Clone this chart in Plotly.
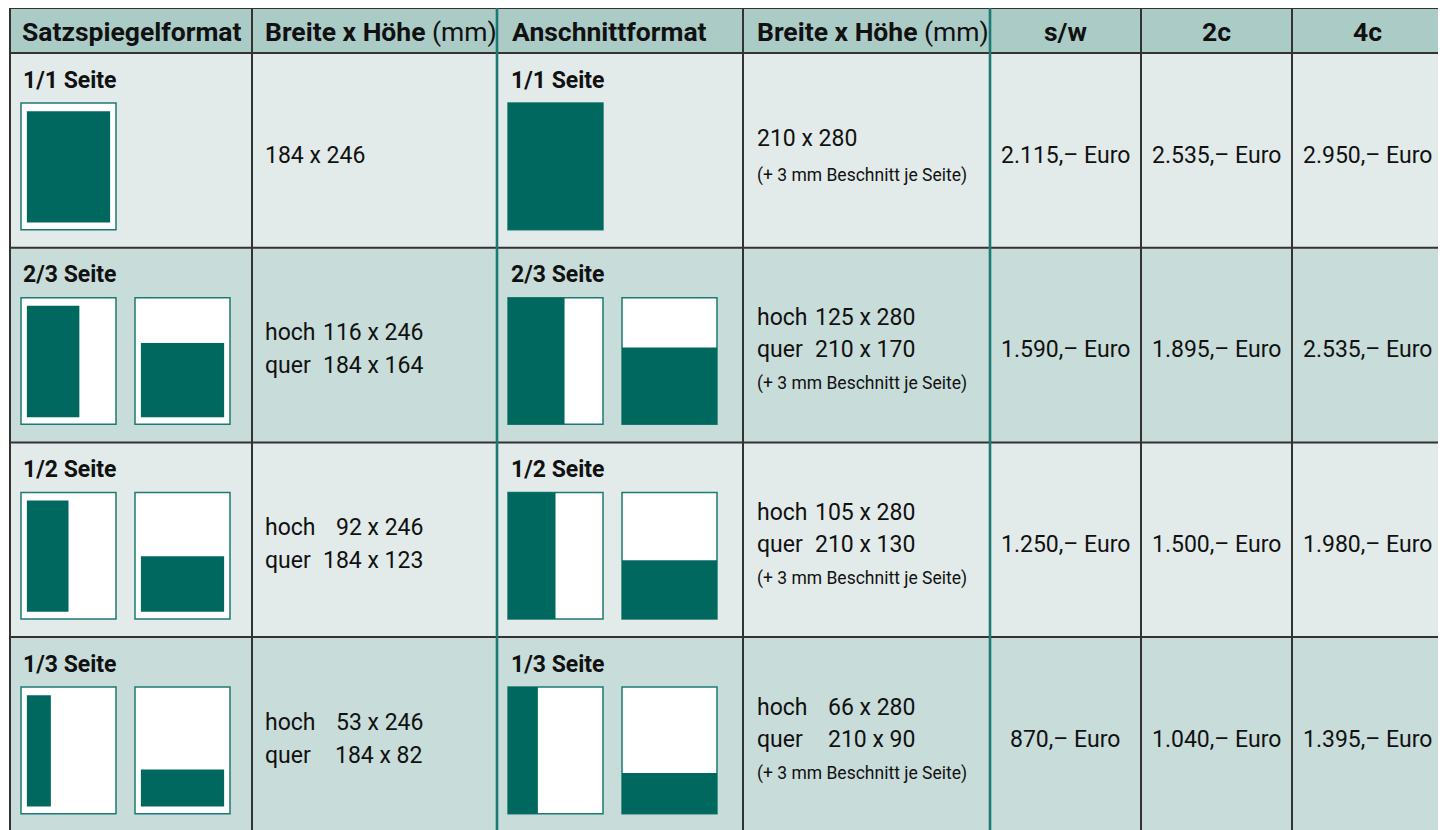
import plotly.graph_objects as go

# ---------------- data ----------------
header_labels = ["Satzspiegelformat", "Breite x Höhe", "Anschnittformat", "Breite x Höhe", "s/w", "2c", "4c"]
header_units = ["", " (mm)", "", " (mm)", "", "", ""]
formats = ["1/1 Seite", "2/3 Seite", "1/2 Seite", "1/3 Seite"]
# Satzspiegel (type area) sizes in mm: (width, height)
satz_hoch = [(184, 246), (116, 246), (92, 246), (53, 246)]
satz_quer = [None, (184, 164), (184, 123), (184, 82)]
# Anschnitt (bleed) sizes in mm
ansch_hoch = [(210, 280), (125, 280), (105, 280), (66, 280)]
ansch_quer = [None, (210, 170), (210, 130), (210, 90)]
beschnitt_note = "(+ 3 mm Beschnitt je Seite)"
price_sw = ["2.115,– Euro", "1.590,– Euro", "1.250,– Euro", "870,– Euro"]
price_2c = ["2.535,– Euro", "1.895,– Euro", "1.500,– Euro", "1.040,– Euro"]
price_4c = ["2.950,– Euro", "2.535,– Euro", "1.980,– Euro", "1.395,– Euro"]
page_mm = (210, 280)
satz_margin_mm = (13, 18)  # left, top

# ---------------- style ----------------
W, H = 1446, 830
OFF = 8  # page body margin
FONT = "Roboto, Liberation Sans, sans-serif"
C_HEAD = "#abcbc7"
C_LIGHT = "#e2ebea"
C_DARK = "#c8dcda"
C_TEAL = "#00685f"
C_TEAL_LINE = "#1b7b72"
C_LINE = "#333333"
C_TEXT = "#111111"

col_x = [10, 252, 497, 743, 990, 1141, 1292, 1443]
top, head_bottom = 8, 53
row_h = 194.7
row_tops = [head_bottom + i * row_h for i in range(len(formats))]
scale = 0.4524  # px per mm for icons

S_HEAD, S_LABEL, S_BODY, S_NOTE = 26.5, 23, 23, 17.5

shapes = []
annos = []

def rect(x0, y0, x1, y1, fill, line_color=None, lw=0, layer="below"):
    shapes.append(dict(type="rect", xref="x", yref="y", x0=x0, y0=y0, x1=x1, y1=y1,
                       fillcolor=fill, line=dict(color=line_color or fill, width=lw), layer=layer))

def line(x0, y0, x1, y1, color, width):
    shapes.append(dict(type="line", xref="x", yref="y", x0=x0, y0=y0, x1=x1, y1=y1,
                       line=dict(color=color, width=width), layer="above"))

def text(x, y, s, size, anchor="left", bold=False):
    if bold:
        s = "<b>" + s + "</b>"
    annos.append(dict(x=x, y=y, xref="x", yref="y", text=s, showarrow=False,
                      xanchor=anchor, yanchor="middle",
                      font=dict(family=FONT, size=size, color=C_TEXT)))

# backgrounds
rect(col_x[0], top, col_x[-1], head_bottom, C_HEAD)
for i, t in enumerate(row_tops):
    rect(col_x[0], t, col_x[-1], min(t + row_h, H + 20), C_LIGHT if i % 2 == 0 else C_DARK)

# header texts
head_pos = [(20, "left"), (263, "left"), (510, "left"), (755, "left"),
            (1065, "center"), (1216, "center"), (1367, "center")]
for (x, anc), lab, unit in zip(head_pos, header_labels, header_units):
    s = "<b>" + lab + "</b>" + unit
    annos.append(dict(x=x, y=31, xref="x", yref="y", text=s, showarrow=False,
                      xanchor=anc, yanchor="middle",
                      font=dict(family=FONT, size=S_HEAD, color=C_TEXT)))

pw, ph = page_mm[0] * scale, page_mm[1] * scale

def satz_icon(x0, y0, dims):
    rect(x0, y0, x0 + pw, y0 + ph, "white", C_TEAL_LINE, 1.5, layer="above")
    w, h = dims
    mx, my = satz_margin_mm
    bottom = my + 246
    ix0 = x0 + mx * scale
    iy1 = y0 + bottom * scale
    rect(ix0, iy1 - h * scale, ix0 + w * scale, iy1, C_TEAL, C_TEAL, 0, layer="above")

def ansch_icon(x0, y0, dims):
    rect(x0, y0, x0 + pw, y0 + ph, "white", C_TEAL_LINE, 1.5, layer="above")
    w, h = dims
    rect(x0, y0 + ph - h * scale, x0 + w * scale, y0 + ph, C_TEAL, C_TEAL, 0, layer="above")

for i, t in enumerate(row_tops):
    text(21, t + 27, formats[i], S_LABEL, bold=True)
    text(509, t + 27, formats[i], S_LABEL, bold=True)
    iy = t + 50
    satz_icon(21, iy, satz_hoch[i])
    ansch_icon(508, iy, ansch_hoch[i])
    if satz_quer[i] is not None:
        satz_icon(135, iy, satz_quer[i])
        ansch_icon(622, iy, ansch_quer[i])
    if satz_quer[i] is None:
        text(263, t + 102, "%d x %d" % satz_hoch[i], S_BODY)
        text(755, t + 85, "%d x %d" % ansch_hoch[i], S_BODY)
        text(755, t + 122, beschnitt_note, S_NOTE)
    else:
        text(263, t + 85, "hoch", S_BODY)
        text(425, t + 85, "%d x %d" % satz_hoch[i], S_BODY, anchor="right")
        text(263, t + 118, "quer", S_BODY)
        text(425, t + 118, "%d x %d" % satz_quer[i], S_BODY, anchor="right")
        text(755, t + 70, "hoch", S_BODY)
        text(917, t + 70, "%d x %d" % ansch_hoch[i], S_BODY, anchor="right")
        text(755, t + 102, "quer", S_BODY)
        text(917, t + 102, "%d x %d" % ansch_quer[i], S_BODY, anchor="right")
        text(755, t + 136, beschnitt_note, S_NOTE)
    py = t + 102
    text(1065, py, price_sw[i], S_BODY, anchor="center")
    text(1216, py, price_2c[i], S_BODY, anchor="center")
    text(1367, py, price_4c[i], S_BODY, anchor="center")

# grid lines
for y in [top, head_bottom] + row_tops[1:]:
    line(col_x[0], y, col_x[-1], y, C_LINE, 2)
for k, x in enumerate(col_x):
    if k in (2, 4):
        line(x, top, x, H + 20, C_TEAL_LINE, 2.6)
    else:
        line(x, top, x, H + 20, C_LINE, 2)

fig = go.Figure()
fig.add_trace(go.Scatter(x=[OFF, W], y=[OFF, H], mode="markers", marker=dict(opacity=0),
                         hoverinfo="skip", showlegend=False))
fig.update_layout(
    width=W, height=H, margin=dict(l=0, r=0, t=0, b=0),
    paper_bgcolor="white", plot_bgcolor="white",
    xaxis=dict(range=[OFF, W + OFF], visible=False, fixedrange=True),
    yaxis=dict(range=[H + OFF, OFF], visible=False, fixedrange=True),
    shapes=shapes, annotations=annos, showlegend=False,
)
fig.write_html("out.html", config={"displayModeBar": False})
